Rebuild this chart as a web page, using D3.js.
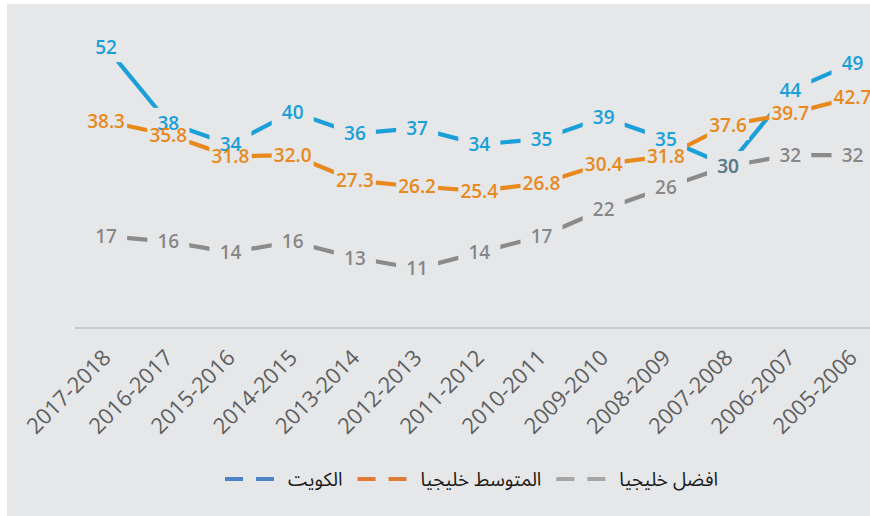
<!DOCTYPE html>
<html>
<head>
<meta charset="utf-8">
<script src="https://cdn.jsdelivr.net/npm/d3@7"></script>
<style>
  body { margin: 0; background: #fff; }
</style>
</head>
<body>
<script>
// data
const categories = ['2017-2018', '2016-2017', '2015-2016', '2014-2015', '2013-2014', '2012-2013',
    '2011-2012', '2010-2011', '2009-2010', '2008-2009', '2007-2008', '2006-2007', '2005-2006']
const kuwait = [52, 38, 34, 40, 36, 37, 34, 35, 39, 35, 30, 44, 49]
const gulfAverage = [38.3, 35.8, 31.8, 32.0, 27.3, 26.2, 25.4, 26.8, 30.4, 31.8, 37.6, 39.7, 42.7]
const gulfBest = [17, 16, 14, 16, 13, 11, 14, 17, 22, 26, 30, 32, 32]
const seriesNames = ['الكويت', 'المتوسط خليجيا', 'افضل خليجيا']

let width = 870
let height = 516

let series = [
    { name: seriesNames[0], values: kuwait, color: '#1a9fd9', legend: '#4a86c5', fmt: d3.format('d'), labelFill: '#1a9fd9', labelOpacity: 1 },
    { name: seriesNames[1], values: gulfAverage, color: '#e8891d', legend: '#e07a37', fmt: d3.format('.1f'), labelFill: '#e8891d', labelOpacity: 1 },
    { name: seriesNames[2], values: gulfBest, color: '#8b8b8b', legend: '#a6a6a6', fmt: d3.format('d'), labelFill: '#727272', labelOpacity: 0.82 }
]

let x = d3.scalePoint().domain(categories).range([75, 75 + 13 * 62.2]).padding(0.5)
let y = d3.scaleLinear().domain([0, 60]).range([328, 4])

// label box size (the lines stop at it)
let boxW = 42
let boxH = 30

const svg = d3.select('body').append('svg')
    .attr('width', width)
    .attr('height', height)

const defs = svg.append('defs')

svg.append('rect')
    .attr('x', 7)
    .attr('y', 4)
    .attr('width', width - 7)
    .attr('height', height - 4)
    .attr('fill', '#e6e7e9')

// baseline
svg.append('line')
    .attr('x1', x.range()[0])
    .attr('x2', x.range()[1])
    .attr('y1', y(0))
    .attr('y2', y(0))
    .attr('stroke', '#c9cacc')
    .attr('stroke-width', 2)

svg.append('g')
    .selectAll('text')
    .data(categories)
    .join('text')
    .attr('transform', d => `translate(${x(d) + 6},${y(0) + 31}) rotate(-45)`)
    .attr('text-anchor', 'end')
    .style('font-family', '"Open Sans", sans-serif')
    .style('font-size', '22px')
    .attr('fill', '#5f5f5f')
    .text(d => d)

// one mask for all lines, cut out at every label box
let mask = defs.append('mask')
    .attr('id', 'labelCut')
    .attr('maskUnits', 'userSpaceOnUse')
    .attr('x', 0).attr('y', 0).attr('width', width).attr('height', height)
mask.append('rect')
    .attr('width', width)
    .attr('height', height)
    .attr('fill', '#fff')

const lineG = svg.append('g').attr('mask', 'url(#labelCut)')
const labelG = svg.append('g')

let line = d3.line()
    .x((d, i) => x(categories[i]))
    .y(d => y(d))

series.forEach(s => {
    lineG.append('path')
        .datum(s.values)
        .attr('d', line)
        .attr('fill', 'none')
        .attr('stroke', s.color)
        .attr('stroke-width', 4.2)

    mask.append('g')
        .selectAll('rect')
        .data(s.values)
        .join('rect')
        .attr('x', (d, i) => x(categories[i]) - boxW / 2)
        .attr('y', d => y(d) - boxH / 2)
        .attr('width', boxW)
        .attr('height', boxH)
        .attr('fill', '#000')

    labelG.append('g')
        .selectAll('text')
        .data(s.values)
        .join('text')
        .attr('x', (d, i) => x(categories[i]))
        .attr('y', d => y(d))
        .attr('dy', '0.36em')
        .attr('text-anchor', 'middle')
        .style('font-family', '"Open Sans", sans-serif')
        .style('font-weight', 600)
        .style('font-size', '19px')
        .attr('fill', s.labelFill)
        .attr('fill-opacity', s.labelOpacity)
        .text(d => s.fmt(d))
})

// legend
let lx = 225
series.forEach(s => {
    let item = svg.append('g')
    item.append('line')
        .attr('x1', lx)
        .attr('x2', lx + 51)
        .attr('y1', 479)
        .attr('y2', 479)
        .attr('stroke', s.legend)
        .attr('stroke-width', 4)
        .attr('stroke-dasharray', '18,13')
    let t = item.append('text')
        .attr('x', lx + 63)
        .attr('y', 479)
        .attr('dy', '0.35em')
        .style('font-family', '"Noto Sans Arabic", "DejaVu Sans", sans-serif')
        .style('font-size', '19px')
        .attr('fill', '#1a1a1a')
        .text(s.name)
    lx += 63 + t.node().getComputedTextLength() + 15
})
</script>
</body>
</html>
